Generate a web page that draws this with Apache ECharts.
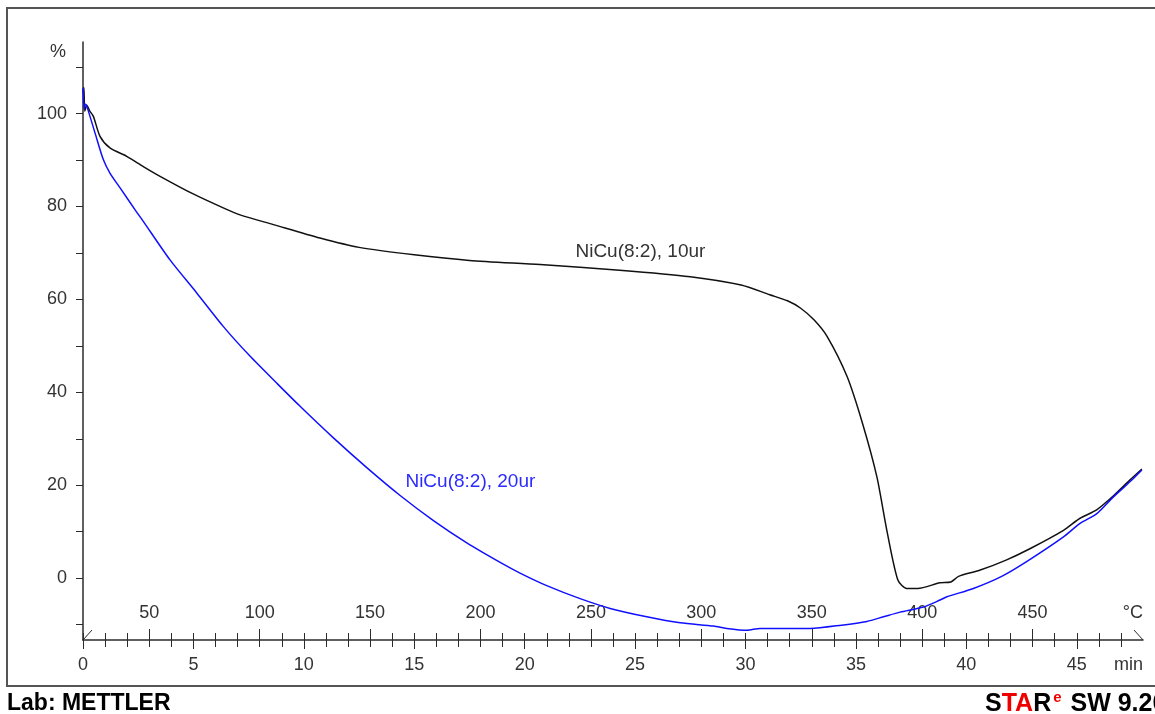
<!DOCTYPE html>
<html>
<head>
<meta charset="utf-8">
<title>NiCu(8:2) TGA</title>
<script src="https://cdn.jsdelivr.net/npm/echarts@6/dist/echarts.min.js"></script>
<style>
  html, body { margin: 0; padding: 0; background: #fff; }
  #chart { width: 1155px; height: 714px; }
</style>
</head>
<body>
<div id="chart"></div>
<script>
// weight (%) against time (min)
var time10 = [0, 0.04, 0.08, 0.17, 0.3, 0.47, 0.77, 1.22, 1.98, 2.73, 3.49, 4.99, 6.35, 7.11, 8.62, 10.73, 12.5, 15, 17.5, 20.7, 24.3, 27.5, 29.8, 31.1, 31.9, 32.5, 33.1, 33.7, 34.6, 35.3, 35.95, 36.4, 36.9, 37.3, 37.8, 38.8, 39.3, 39.65, 40.6, 41.8, 42.9, 44.4, 45.15, 45.9, 46.7, 47.4, 47.95];
var weight10 = [104.5, 105.6, 100.5, 101.8, 100.6, 99.4, 95.1, 92.6, 90.8, 88.6, 86.5, 82.7, 79.7, 78.2, 76.1, 73.2, 71.2, 69.6, 68.4, 67.5, 66.3, 64.9, 63.1, 61.0, 59.7, 58.1, 55.6, 52.0, 43.4, 33.3, 21.8, 10.3, -0.4, -2.2, -2.2, -1.0, -0.8, 0.4, 1.7, 3.9, 6.4, 10.3, 12.9, 14.7, 17.9, 21.1, 23.5];

var time20 = [0, 0.05, 0.1, 0.17, 0.54, 0.92, 1.22, 1.68, 2.43, 2.73, 3.94, 5.15, 6.35, 7.56, 8.77, 9.83, 11.34, 12.85, 14.36, 15.87, 17.38, 18.89, 19.79, 21.0, 22.51, 23.87, 25.53, 27.04, 28.55, 29.15, 30.06, 30.66, 31.57, 32.93, 34.35, 35.5, 36.25, 37.0, 38.06, 38.81, 39.12, 40.32, 41.6, 42.8, 44.4, 45.15, 45.91, 46.66, 47.42, 47.95];
var weight20 = [105.5, 101.0, 102.0, 101.6, 95.9, 90.1, 87.2, 84.0, 78.8, 76.8, 68.5, 61.4, 54.2, 47.8, 42.0, 37.0, 30.2, 23.8, 17.8, 12.4, 7.6, 3.4, 1.1, -1.6, -4.4, -6.5, -8.3, -9.6, -10.3, -10.8, -11.2, -10.8, -10.8, -10.8, -10.1, -9.3, -8.3, -7.3, -6.2, -4.7, -4.0, -2.2, 0.4, 3.8, 8.9, 11.8, 13.9, 17.5, 20.8, 23.3];

var name10 = 'NiCu(8:2), 10ur';
var name20 = 'NiCu(8:2), 20ur';

// axes
var yLabels = [0, 20, 40, 60, 80, 100];
var yTicks = [-10, 0, 10, 20, 30, 40, 50, 60, 70, 80, 90, 100, 110];
var minuteLabels = [0, 5, 10, 15, 20, 25, 30, 35, 40, 45];
var minuteTicks = [];
for (var m = 0; m <= 47; m++) minuteTicks.push(m);
var tempLabels = [50, 100, 150, 200, 250, 300, 350, 400, 450];
var tempStart = 20, heatRate = 10;   // °C at t=0, °C/min
var timeMax = 48;
var yMin = -13.3, yMax = 115.4;

var AXIS = '#2b2b2b';
var FONT = 'Liberation Sans';
var labelStyle = { color: '#333', fontFamily: FONT, fontSize: 18 };

function pairs(xs, ys) {
  return xs.map(function (x, i) { return [x, ys[i]]; });
}

var chart = echarts.init(document.getElementById('chart'));

chart.setOption({
  animation: false,
  backgroundColor: '#fff',
  grid: { left: 83, top: 42, right: 12, bottom: 74, containLabel: false, outerBoundsMode: 'none' },
  xAxis: [
    {
      // minutes: labels and 5-minute ticks pointing down
      type: 'value', position: 'bottom', min: 0, max: timeMax,
      axisLine: { show: true, onZero: false, lineStyle: { color: AXIS, width: 1.5 } },
      axisTick: { show: true, customValues: minuteLabels, length: 9, lineStyle: { color: AXIS } },
      axisLabel: Object.assign({ customValues: minuteLabels, margin: 16 }, labelStyle),
      splitLine: { show: false },
      name: 'min', nameLocation: 'end', nameGap: 0,
      nameTextStyle: Object.assign({ align: 'right', verticalAlign: 'top', padding: [16, 0, 0, 0] }, labelStyle)
    },
    {
      // 1-minute ticks crossing the line
      type: 'value', position: 'bottom', offset: 7, min: 0, max: timeMax,
      axisLine: { show: false, onZero: false },
      axisTick: { show: true, customValues: minuteTicks, inside: true, length: 14, lineStyle: { color: AXIS } },
      axisLabel: { show: false },
      splitLine: { show: false }
    },
    {
      // temperature scale, labels above the line
      type: 'value', position: 'bottom', min: tempStart, max: tempStart + heatRate * timeMax,
      axisLine: { show: false, onZero: false },
      axisTick: { show: true, customValues: tempLabels, inside: true, length: 11, lineStyle: { color: AXIS } },
      axisLabel: Object.assign({ customValues: tempLabels, inside: true, margin: 18 }, labelStyle),
      splitLine: { show: false },
      name: '°C', nameLocation: 'end', nameGap: 0,
      nameTextStyle: Object.assign({ align: 'right', verticalAlign: 'bottom', padding: [0, 0, 18, 0] }, labelStyle)
    }
  ],
  yAxis: {
    type: 'value', position: 'left', min: yMin, max: yMax,
    axisLine: { show: true, onZero: false, lineStyle: { color: AXIS, width: 1.5 } },
    axisTick: { show: true, customValues: yTicks, length: 7, lineStyle: { color: AXIS } },
    axisLabel: Object.assign({ customValues: yLabels, margin: 16 }, labelStyle),
    splitLine: { show: false },
    name: '%', nameLocation: 'end', nameGap: -10,
    nameTextStyle: Object.assign({ align: 'right', verticalAlign: 'middle', padding: [0, 17, 0, 0] }, labelStyle)
  },
  series: [
    {
      name: name10, type: 'line', xAxisIndex: 0, data: pairs(time10, weight10),
      showSymbol: false, smooth: 0.25,
      lineStyle: { color: '#111', width: 1.5 }
    },
    {
      name: name20, type: 'line', xAxisIndex: 0, data: pairs(time20, weight20),
      showSymbol: false, smooth: 0.25,
      lineStyle: { color: '#1010ff', width: 1.5 }
    }
  ]
});

// decorations: frame, axis end marks, curve names, footer
var origin = chart.convertToPixel({ gridIndex: 0 }, [0, yMin]);
var axisEnd = chart.convertToPixel({ gridIndex: 0 }, [timeMax, yMin]);
var lab10 = chart.convertToPixel({ gridIndex: 0 }, [22.3, 70.2]);
var lab20 = chart.convertToPixel({ gridIndex: 0 }, [14.6, 20.8]);

chart.setOption({
  graphic: [
    { type: 'rect', shape: { x: 7, y: 8, width: 1170, height: 678 }, style: { fill: 'none', stroke: '#555', lineWidth: 2 }, silent: true },
    { type: 'line', shape: { x1: origin[0], y1: origin[1], x2: origin[0] + 9, y2: origin[1] - 10 }, style: { stroke: AXIS, lineWidth: 1 } },
    { type: 'line', shape: { x1: axisEnd[0] - 9, y1: axisEnd[1] - 10, x2: axisEnd[0], y2: axisEnd[1] }, style: { stroke: AXIS, lineWidth: 1 } },
    { type: 'text', x: lab10[0], y: lab10[1], style: { text: name10, fill: '#333', font: '19px "Liberation Sans"', align: 'left', verticalAlign: 'middle' } },
    { type: 'text', x: lab20[0], y: lab20[1], style: { text: name20, fill: '#2b2bff', font: '19px "Liberation Sans"', align: 'left', verticalAlign: 'middle' } },
    { type: 'text', x: 7, y: 704, style: { text: 'Lab: METTLER', fill: '#000', font: 'bold 23px "Liberation Sans"', align: 'left', verticalAlign: 'middle' } },
    {
      type: 'text', x: 985, y: 704,
      style: {
        text: '{k|S}{r|TA}{k|R}{e|e}{k| SW 9.20}',
        align: 'left', verticalAlign: 'middle',
        rich: {
          k: { fill: '#000', font: 'bold 25px "Liberation Sans"' },
          r: { fill: '#e00', font: 'bold 25px "Liberation Sans"' },
          e: { fill: '#e00', font: 'bold 15px "Liberation Sans"', padding: [0, 2, 12, 2] }
        }
      }
    }
  ]
});
</script>
</body>
</html>
